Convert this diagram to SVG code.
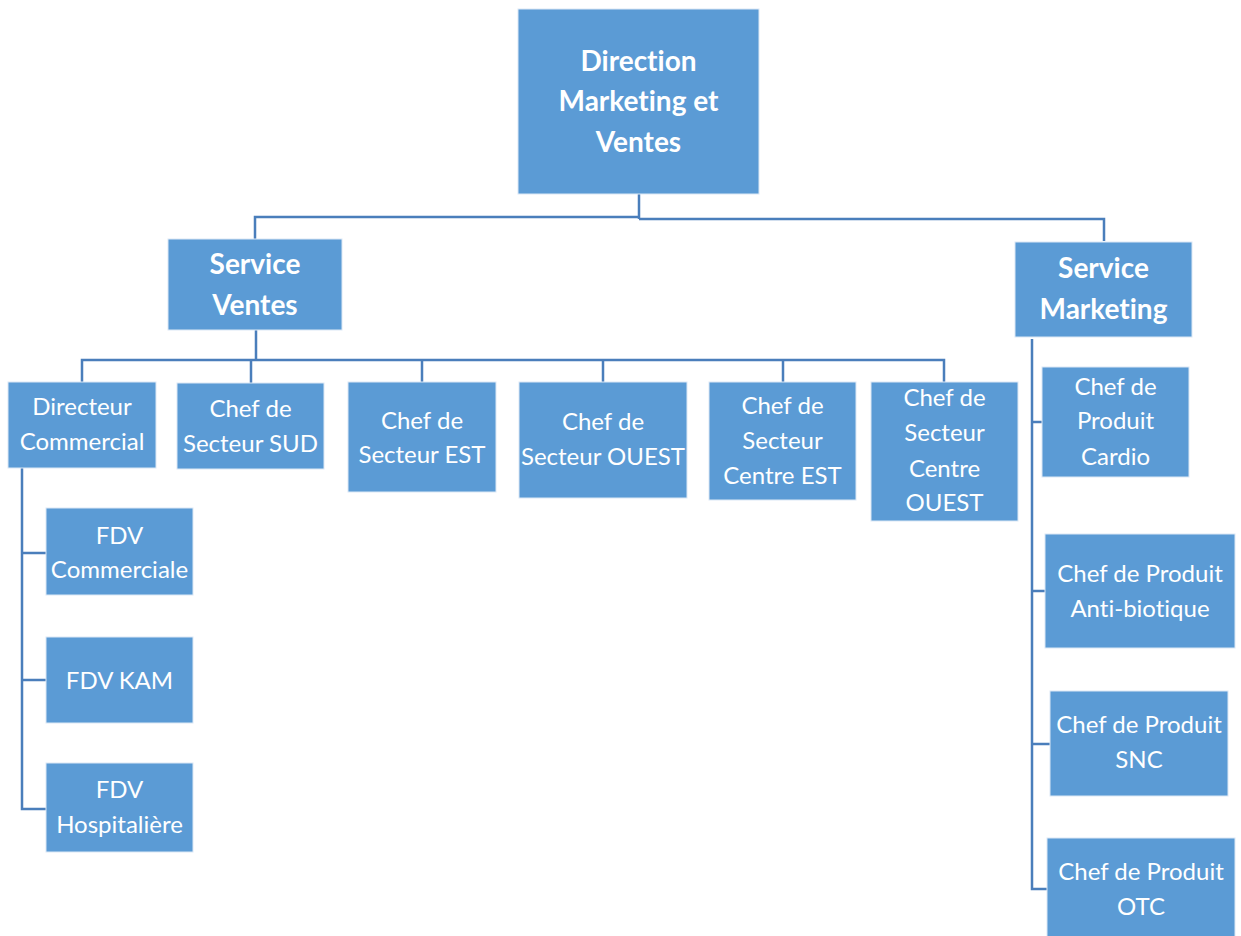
<svg xmlns="http://www.w3.org/2000/svg" width="1241" height="936" viewBox="0 0 1241 936">
<style>
.box{fill:#5B9BD5;stroke:#DCE8F5;stroke-width:1}
.t{font-family:Lato,"Open Sans","Liberation Sans",sans-serif;font-size:24px;fill:#FFFFFF;text-anchor:middle;font-variant-ligatures:none}
.b{font-family:Lato,"Open Sans","Liberation Sans",sans-serif;font-size:28px;font-weight:bold;fill:#FFFFFF;text-anchor:middle;font-variant-ligatures:none}
.c{fill:none;stroke:#4A7EBB;stroke-width:2.5}
</style>
<rect width="1241" height="936" fill="#FFFFFF"/>
<g id="connectors">
<path class="c" d="M639,194 V219 M255,239 V217 H639 M639,219 H1104 V241"/>
<path class="c" d="M256,330 V360 M82,382 V360 H944 V382 M251,360 V383 M422,360 V382 M603,360 V382 M783,360 V382"/>
<path class="c" d="M22,468 V809 H46 M22,553 H46 M22,680 H46"/>
<path class="c" d="M1032,339 V889 H1047 M1032,422 H1042 M1032,591 H1045 M1032,744 H1050"/>
</g>
<g id="direction">
<rect class="box" x="518" y="9" width="241" height="185"/>
<text class="b" x="638.5" y="71">Direction</text>
<text class="b" x="638.5" y="111">Marketing et</text>
<text class="b" x="638.5" y="152">Ventes</text>
</g>
<g id="service-ventes">
<rect class="box" x="168" y="239" width="174" height="91"/>
<text class="b" x="255" y="274">Service</text>
<text class="b" x="255" y="315">Ventes</text>
</g>
<g id="service-marketing">
<rect class="box" x="1015" y="242" width="177" height="95"/>
<text class="b" x="1103.5" y="278">Service</text>
<text class="b" x="1103.5" y="319">Marketing</text>
</g>
<g id="directeur-commercial">
<rect class="box" x="8" y="382" width="148" height="86"/>
<text class="t" x="82" y="415">Directeur</text>
<text class="t" x="82" y="450">Commercial</text>
</g>
<g id="chef-sud">
<rect class="box" x="177" y="383" width="147" height="86"/>
<text class="t" x="250.5" y="417">Chef de</text>
<text class="t" x="250.5" y="452">Secteur SUD</text>
</g>
<g id="chef-est">
<rect class="box" x="348" y="382" width="148" height="110"/>
<text class="t" x="422" y="429">Chef de</text>
<text class="t" x="422" y="463">Secteur EST</text>
</g>
<g id="chef-ouest">
<rect class="box" x="519" y="382" width="168" height="116"/>
<text class="t" x="603" y="430">Chef de</text>
<text class="t" x="603" y="465">Secteur OUEST</text>
</g>
<g id="chef-centre-est">
<rect class="box" x="709" y="382" width="147" height="118"/>
<text class="t" x="782.5" y="414">Chef de</text>
<text class="t" x="782.5" y="449">Secteur</text>
<text class="t" x="782.5" y="484">Centre EST</text>
</g>
<g id="chef-centre-ouest">
<rect class="box" x="871" y="382" width="147" height="139"/>
<text class="t" x="944.5" y="406">Chef de</text>
<text class="t" x="944.5" y="441">Secteur</text>
<text class="t" x="944.5" y="477">Centre</text>
<text class="t" x="944.5" y="511">OUEST</text>
</g>
<g id="fdv-commerciale">
<rect class="box" x="46" y="508" width="147" height="87"/>
<text class="t" x="119.5" y="544">FDV</text>
<text class="t" x="119.5" y="578">Commerciale</text>
</g>
<g id="fdv-kam">
<rect class="box" x="46" y="637" width="147" height="86"/>
<text class="t" x="119.5" y="689">FDV KAM</text>
</g>
<g id="fdv-hospitaliere">
<rect class="box" x="46" y="763" width="147" height="89"/>
<text class="t" x="119.5" y="798">FDV</text>
<text class="t" x="119.5" y="833">Hospitalière</text>
</g>
<g id="chef-cardio">
<rect class="box" x="1042" y="367" width="147" height="110"/>
<text class="t" x="1115.5" y="395">Chef de</text>
<text class="t" x="1115.5" y="429">Produit</text>
<text class="t" x="1115.5" y="465">Cardio</text>
</g>
<g id="chef-antibiotique">
<rect class="box" x="1045" y="534" width="190" height="114"/>
<text class="t" x="1140" y="582">Chef de Produit</text>
<text class="t" x="1140" y="617">Anti-biotique</text>
</g>
<g id="chef-snc">
<rect class="box" x="1050" y="691" width="178" height="105"/>
<text class="t" x="1139" y="733">Chef de Produit</text>
<text class="t" x="1139" y="768">SNC</text>
</g>
<g id="chef-otc">
<rect class="box" x="1047" y="838" width="188" height="100"/>
<text class="t" x="1141" y="880">Chef de Produit</text>
<text class="t" x="1141" y="915">OTC</text>
</g>
</svg>
